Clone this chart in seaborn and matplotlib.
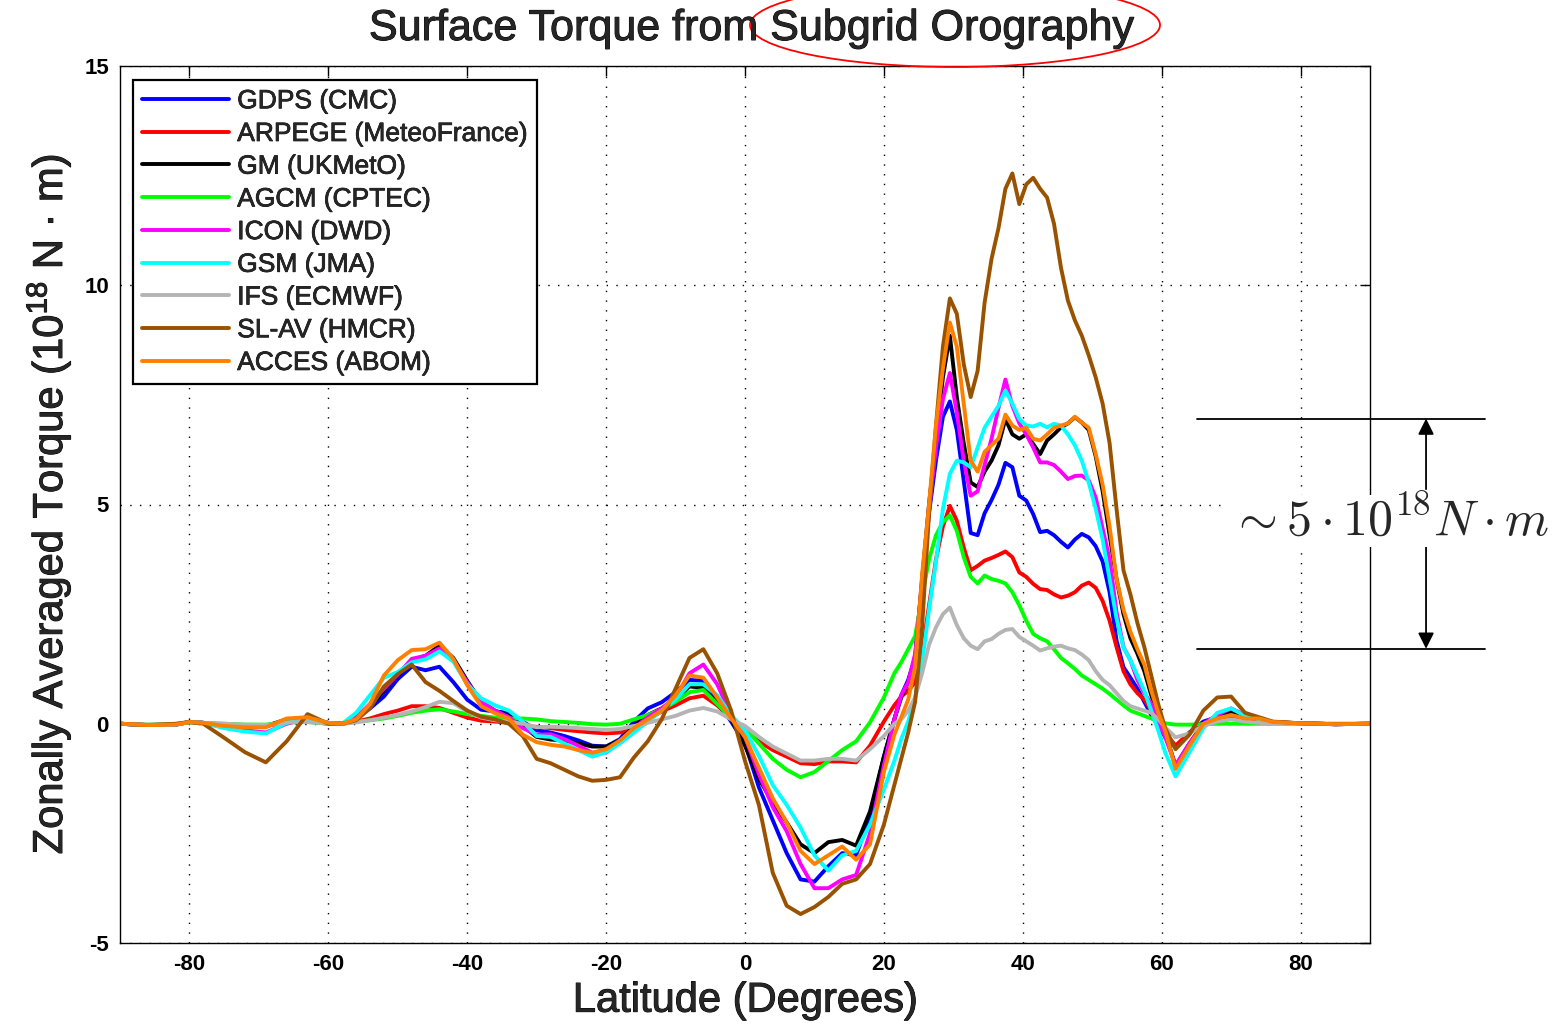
import numpy as np
import pandas as pd
import matplotlib
matplotlib.use("Agg")
import matplotlib.pyplot as plt
import matplotlib.patheffects as pe
from matplotlib.patches import Ellipse
from matplotlib.lines import Line2D
import seaborn as sns

# ---------------------------------------------------------------------------
# Zonally averaged surface torque from subgrid orography (10^18 N m)
# ---------------------------------------------------------------------------
lat = [-90, -86, -82, -80, -78, -75, -72, -69, -66, -63,
       -60, -58, -56, -54, -52, -50, -48, -46, -44, -42, -40, -38, -36, -34, -32,
       -30, -28, -26, -24, -22, -20, -18, -16, -14, -12, -10, -8, -6, -4, -2,
       0, 2, 4, 6, 8, 10, 12, 14, 16, 18, 20,
       21.5,
       22.5, 23.5, 24.5, 25.5, 26.5, 27.5, 28.5, 29.5, 30.5, 31.5, 32.5, 33.5, 34.5,
       35.5, 36.5, 37.5, 38.5, 39.5, 40.5, 41.5, 42.5, 43.5, 44.5, 45.5, 46.5, 47.5,
       48.5, 49.5, 50.5, 51.5, 52.5, 53.5, 54.5, 55.5, 56.5, 57.5, 58.5, 59.5, 60.5,
       62, 64, 66, 68, 70, 72, 74, 76,
       80, 85, 90]

gdps = [0, -0.03, -0.02, 0.04, 0.02, -0.02, -0.04, -0.04, 0.06, 0.08,
        0.02, 0.0, 0.14, 0.35, 0.62, 1.02, 1.3, 1.22, 1.3, 0.95, 0.55, 0.32, 0.28, 0.25, 0.05,
        -0.15, -0.2, -0.28, -0.38, -0.5, -0.52, -0.35, 0.05, 0.35, 0.49, 0.72, 1.0, 0.98, 0.5, 0.05,
        -0.45, -1.45, -2.2, -2.95, -3.55, -3.6, -3.25, -2.95, -3.0, -2.1, -0.75,
        0.1,
        0.65, 1.0, 1.5, 3.2, 4.8, 6.0, 7.0, 7.35, 6.7, 5.54, 4.35, 4.3, 4.8,
        5.1, 5.45, 5.95, 5.85, 5.2, 5.09, 4.78, 4.37, 4.4, 4.3, 4.15, 4.02, 4.2,
        4.33, 4.25, 4.05, 3.7, 3.0, 1.9, 1.29, 1.05, 0.8, 0.5, 0.2, -0.05, -0.3,
        -0.54, -0.2, 0.05, 0.15, 0.2, 0.12, 0.08, 0.03,
        0.01, -0.01, 0.0]

arpege = [0, -0.03, -0.02, 0.04, 0.02, -0.03, -0.06, -0.06, 0.05, 0.06,
          0.0, 0.0, 0.05, 0.12, 0.22, 0.3, 0.4, 0.4, 0.36, 0.25, 0.14, 0.07, 0.05, 0.02, -0.05,
          -0.07, -0.1, -0.14, -0.17, -0.2, -0.22, -0.2, -0.05, 0.1, 0.28, 0.42, 0.58, 0.64, 0.42, 0.12,
          -0.15, -0.4, -0.6, -0.75, -0.9, -0.92, -0.86, -0.86, -0.88, -0.5, 0.05,
          0.42,
          0.62, 0.75, 0.95, 1.6, 2.7, 3.75, 4.5, 4.97, 4.63, 4.02, 3.5, 3.6, 3.72,
          3.78, 3.85, 3.93, 3.8, 3.45, 3.35, 3.19, 3.07, 3.05, 2.95, 2.88, 2.92, 3.0,
          3.15, 3.22, 3.1, 2.8, 2.35, 1.75, 1.2, 0.9, 0.7, 0.55, 0.3, 0.05, -0.2,
          -0.5, -0.2, 0.0, 0.1, 0.15, 0.1, 0.06, 0.03,
          0.01, -0.01, 0.0]

gm = [0, -0.03, -0.02, 0.04, 0.02, -0.03, -0.05, -0.05, 0.1, 0.12,
      0.02, 0.0, 0.12, 0.4, 0.75, 1.1, 1.45, 1.55, 1.78, 1.5, 0.98, 0.5, 0.3, 0.18, -0.05,
      -0.3, -0.36, -0.38, -0.45, -0.52, -0.52, -0.38, -0.05, 0.2, 0.35, 0.55, 0.85, 0.82, 0.45, 0.1,
      -0.5, -1.25, -1.8, -2.25, -2.75, -2.95, -2.7, -2.65, -2.78, -2.0, -0.75,
      0.1,
      0.6, 0.95, 1.5, 3.3, 5.0, 6.5, 7.9, 8.85, 7.45, 6.4, 5.5, 5.4, 5.75,
      6.0, 6.35, 6.95, 6.6, 6.5, 6.6, 6.38, 6.15, 6.46, 6.6, 6.76, 6.85, 6.99,
      6.87, 6.7, 6.1, 5.3, 4.3, 3.3, 2.5, 1.95, 1.6, 1.2, 0.65, 0.2, -0.2,
      -0.96, -0.45, 0.0, 0.18, 0.27, 0.2, 0.1, 0.04,
      0.01, -0.01, 0.0]

agcm = [0, -0.02, -0.01, 0.03, 0.02, 0.0, -0.02, -0.02, 0.03, 0.04,
        0.0, 0.0, 0.05, 0.08, 0.12, 0.18, 0.25, 0.3, 0.33, 0.28, 0.22, 0.18, 0.14, 0.12, 0.12,
        0.1, 0.06, 0.04, 0.02, -0.01, -0.02, 0.0, 0.1, 0.2, 0.33, 0.5, 0.72, 0.77, 0.45, 0.12,
        -0.1, -0.45, -0.8, -1.05, -1.22, -1.1, -0.85, -0.6, -0.4, 0.03, 0.6,
        1.15,
        1.4, 1.7, 2.0, 2.9, 3.75, 4.3, 4.6, 4.75, 4.4, 3.8, 3.35, 3.2, 3.38,
        3.3, 3.26, 3.2, 3.0, 2.7, 2.35, 2.05, 1.95, 1.88, 1.7, 1.5, 1.38, 1.25,
        1.1, 1.0, 0.9, 0.8, 0.68, 0.55, 0.42, 0.3, 0.24, 0.18, 0.12, 0.06, 0.01,
        -0.02, -0.02, -0.01, 0.0, 0.0, 0.0, 0.0, 0.0,
        0.0, 0.0, 0.0]

icon = [0, -0.03, -0.02, 0.04, 0.02, -0.08, -0.15, -0.2, 0.0, 0.12,
        0.02, 0.0, 0.15, 0.45, 0.8, 1.12, 1.48, 1.55, 1.72, 1.45, 0.95, 0.5, 0.3, 0.15, -0.1,
        -0.25, -0.24, -0.35, -0.5, -0.66, -0.66, -0.42, -0.1, 0.15, 0.35, 0.6, 1.15, 1.35, 0.9, 0.2,
        -0.3, -1.15, -1.9, -2.45, -3.2, -3.75, -3.75, -3.55, -3.45, -2.5, -0.95,
        0.1,
        0.65, 0.95, 1.6, 3.2, 4.9, 6.3, 7.4, 8.0, 7.1, 6.0, 5.2, 5.3, 5.9,
        6.5, 7.2, 7.85, 7.25, 6.85, 6.6, 6.3, 5.96, 5.96, 5.9, 5.75, 5.58, 5.65,
        5.66, 5.55, 5.16, 4.45, 3.75, 2.55, 1.75, 1.45, 1.0, 0.7, 0.45, 0.05, -0.3,
        -0.95, -0.45, 0.0, 0.2, 0.35, 0.2, 0.1, 0.04,
        0.01, -0.01, 0.0]

gsm = [0, -0.03, -0.02, 0.04, 0.02, -0.1, -0.18, -0.22, 0.02, 0.12,
       0.02, 0.0, 0.25, 0.65, 1.05, 1.18, 1.4, 1.47, 1.65, 1.42, 0.9, 0.58, 0.42, 0.3, 0.05,
       -0.28, -0.3, -0.45, -0.6, -0.75, -0.65, -0.45, -0.2, 0.05, 0.3, 0.55, 0.9, 0.9, 0.65, 0.2,
       -0.15, -0.73, -1.4, -1.85, -2.37, -3.0, -3.35, -3.0, -2.9, -2.3, -1.5,
       -0.85,
       -0.35, 0.05, 0.6, 1.4, 2.6, 3.7, 4.9, 5.7, 6.0, 5.96, 5.85, 6.3, 6.75,
       7.0, 7.25, 7.6, 7.3, 6.95, 6.8, 6.78, 6.84, 6.76, 6.84, 6.8, 6.6, 6.35,
       6.0, 5.5, 4.9, 4.2, 3.3, 2.4, 1.74, 1.45, 1.1, 0.75, 0.3, -0.15, -0.65,
       -1.2, -0.65, -0.1, 0.25, 0.35, 0.18, 0.1, 0.03,
       0.01, -0.01, 0.0]

ifs = [0, -0.02, -0.01, 0.03, 0.02, 0.0, -0.02, -0.03, 0.03, 0.04,
       0.0, 0.0, 0.03, 0.08, 0.14, 0.2, 0.28, 0.38, 0.5, 0.47, 0.28, 0.14, 0.08, 0.05, 0.0,
       -0.08, -0.07, -0.08, -0.1, -0.12, -0.14, -0.12, -0.05, 0.02, 0.1, 0.18, 0.3, 0.36, 0.28, 0.1,
       -0.05, -0.3, -0.52, -0.68, -0.84, -0.84, -0.8, -0.8, -0.84, -0.58, -0.28,
       0.0,
       0.1, 0.3, 0.6, 1.15, 1.8, 2.2, 2.5, 2.65, 2.25, 1.95, 1.78, 1.7, 1.88,
       1.93, 2.05, 2.14, 2.16, 1.98, 1.88, 1.78, 1.67, 1.72, 1.76, 1.78, 1.72, 1.68,
       1.58, 1.45, 1.2, 1.0, 0.88, 0.7, 0.52, 0.4, 0.35, 0.3, 0.25, 0.1, -0.08,
       -0.31, -0.22, -0.05, 0.05, 0.1, 0.05, 0.02, 0.0,
       0.0, 0.0, 0.0]

slav = [0, -0.03, 0.0, 0.04, 0.0, -0.32, -0.65, -0.88, -0.4, 0.22,
        0.0, 0.0, 0.08, 0.35, 0.85, 1.13, 1.35, 0.95, 0.75, 0.52, 0.3, 0.16, 0.1, 0.0, -0.28,
        -0.8, -0.9, -1.05, -1.2, -1.3, -1.28, -1.22, -0.77, -0.4, 0.1, 0.8, 1.5, 1.7, 1.15, 0.3,
        -0.85, -1.85, -3.4, -4.15, -4.34, -4.18, -3.95, -3.65, -3.55, -3.2, -2.3,
        -1.4,
        -0.8, -0.2, 0.5, 2.2, 4.8, 6.8, 8.6, 9.7, 9.35, 8.2, 7.45, 8.05, 9.6,
        10.6, 11.3, 12.2, 12.55, 11.85, 12.3, 12.45, 12.2, 12.0, 11.4, 10.4, 9.65, 9.2,
        8.85, 8.4, 7.9, 7.3, 6.4, 4.9, 3.5, 2.95, 2.3, 1.75, 1.1, 0.45, -0.1,
        -0.58, -0.25, 0.3, 0.6, 0.62, 0.25, 0.15, 0.05,
        0.01, -0.01, 0.0]

acces = [0, -0.03, -0.02, 0.04, 0.02, -0.05, -0.08, -0.08, 0.12, 0.15,
         0.02, 0.0, 0.1, 0.45, 1.1, 1.45, 1.68, 1.7, 1.85, 1.48, 0.88, 0.4, 0.24, 0.12, -0.25,
         -0.42, -0.48, -0.52, -0.6, -0.66, -0.58, -0.38, -0.1, 0.1, 0.3, 0.65, 1.1, 1.05, 0.6, 0.12,
         -0.3, -1.0, -1.7, -2.25, -2.9, -3.2, -3.0, -2.8, -3.1, -2.75, -1.1,
         -0.25,
         0.15, 0.55, 1.3, 3.4, 5.0, 6.8, 8.1, 9.15, 8.6, 7.3, 6.0, 5.75, 6.2,
         6.35, 6.5, 7.05, 6.8, 6.7, 6.75, 6.5, 6.46, 6.6, 6.75, 6.8, 6.85, 7.0,
         6.87, 6.75, 6.15, 5.45, 4.5, 3.3, 2.6, 2.1, 1.7, 1.35, 0.75, 0.25, -0.15,
         -1.03, -0.5, 0.0, 0.12, 0.2, 0.12, 0.12, 0.04,
         0.01, -0.01, 0.0]

models = ["GDPS (CMC)", "ARPEGE (MeteoFrance)", "GM (UKMetO)", "AGCM (CPTEC)",
          "ICON (DWD)", "GSM (JMA)", "IFS (ECMWF)", "SL-AV (HMCR)", "ACCES (ABOM)"]
series = [gdps, arpege, gm, agcm, icon, gsm, ifs, slav, acces]
colors = ["#0000ff", "#ff0000", "#000000", "#00ff00", "#ff00ff",
          "#00ffff", "#b4b4b4", "#995200", "#ff8000"]

x_ticks = [-80, -60, -40, -20, 0, 20, 40, 60, 80]
y_ticks = [-5, 0, 5, 10, 15]

# spread of the northern mid-latitude maxima
spread_top = 6.96
spread_bottom = 1.71

for s in series:
    assert len(s) == len(lat)

df = pd.concat(
    [pd.DataFrame({"Latitude": lat, "Torque": s, "Model": m})
     for m, s in zip(models, series)],
    ignore_index=True,
)

sns.set_theme(style="white")
plt.rcParams["font.family"] = ["Liberation Sans", "DejaVu Sans"]
plt.rcParams["mathtext.fontset"] = "custom"
plt.rcParams["mathtext.rm"] = "Liberation Sans"

heavy = [pe.withStroke(linewidth=0.7, foreground="black")]

fig = plt.figure(figsize=(15.65, 10.28), dpi=100)
ax = fig.add_axes([120 / 1565, 85 / 1028, 1250 / 1565, 877 / 1028])

sns.lineplot(data=df, x="Latitude", y="Torque", hue="Model", hue_order=models,
             palette=dict(zip(models, colors)), linewidth=2.8, estimator=None,
             sort=False, legend=False, ax=ax)

ax.set_xlim(-90, 90)
ax.set_ylim(-5, 15)
ax.set_xticks(x_ticks)
ax.set_yticks(y_ticks)
ax.set_xticklabels([str(t) for t in x_ticks], fontsize=16, fontweight="bold")
ax.set_yticklabels([str(t) for t in y_ticks], fontsize=16, fontweight="bold")
ax.tick_params(direction="in", top=True, right=True, length=7, width=1,
               colors="black", pad=8)
ax.grid(True, color="black", linestyle=(0, (1, 6)), linewidth=1.0)
ax.set_axisbelow(True)
for sp in ax.spines.values():
    sp.set_color("black")
    sp.set_linewidth(1.0)

ax.set_xlabel("Latitude (Degrees)", fontsize=30, labelpad=4, path_effects=heavy)
ax.set_ylabel(r"Zonally Averaged Torque (10$\mathregular{^{18}}$ N · m)", fontsize=30,
              labelpad=8, path_effects=heavy)

fig.text(751 / 1565, 1 - 29 / 1028, "Surface Torque from Subgrid Orography",
         ha="center", va="center", fontsize=31, path_effects=heavy)
fig.add_artist(Ellipse((955 / 1565, 1 - 25 / 1028), 410 / 1565, 84 / 1028,
                       transform=fig.transFigure, fill=False,
                       edgecolor="red", linewidth=1.3))

handles = [Line2D([0], [0], color=c, linewidth=2.8) for c in colors]
leg = ax.legend(handles, models, loc="upper left", bbox_to_anchor=(0.0104, 0.984),
                borderaxespad=0, fontsize=19, frameon=True, fancybox=False,
                handlelength=3.3, handletextpad=0.3, labelspacing=0.33,
                borderpad=0.35)
leg.get_frame().set_edgecolor("black")
leg.get_frame().set_linewidth(1.6)
leg.get_frame().set_alpha(1)
for t in leg.get_texts():
    t.set_path_effects([pe.withStroke(linewidth=0.5, foreground="black")])

# bracket marking the spread among models
ax.plot([65.05, 106.5], [spread_top, spread_top], color="black", lw=1.3, clip_on=False)
ax.plot([65.05, 106.5], [spread_bottom, spread_bottom], color="black", lw=1.3, clip_on=False)
arrow = dict(arrowstyle="-|>", color="black", lw=1.3, mutation_scale=24,
             shrinkA=0, shrinkB=0)
ax.annotate("", xy=(98.07, spread_top), xytext=(98.07, 5.35), arrowprops=arrow,
            annotation_clip=False)
ax.annotate("", xy=(98.07, spread_bottom), xytext=(98.07, 4.2), arrowprops=arrow,
            annotation_clip=False)
ax.text(92.8, 4.29, r"$\sim 5\cdot 10^{18} N\cdot m$", math_fontfamily="cm",
        fontsize=36, ha="center", va="baseline", clip_on=False,
        bbox=dict(facecolor="white", edgecolor="none", pad=1))

fig.savefig("out.png", dpi=100)
